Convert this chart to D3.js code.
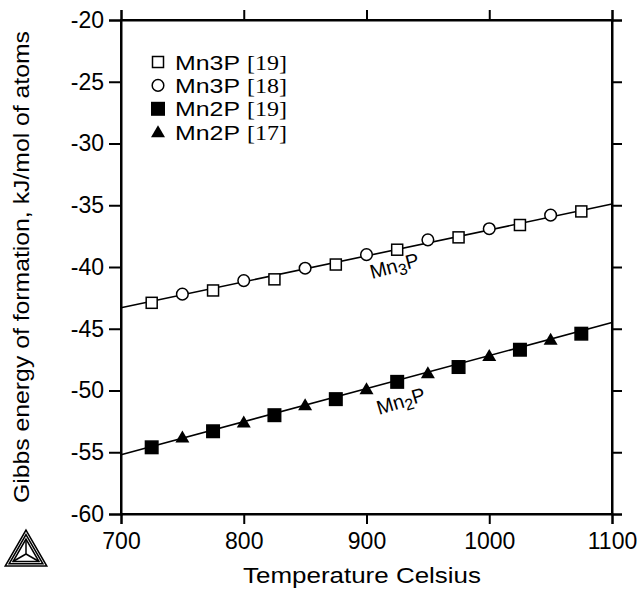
<!DOCTYPE html>
<html>
<head>
<meta charset="utf-8">
<script src="https://cdn.jsdelivr.net/npm/d3@7"></script>
<style>
  body { margin: 0; background: #fff; }
  svg { display: block; }
</style>
</head>
<body>
<svg width="637" height="590"></svg>
<script>
// calculated lines (Temperature C, G kJ/mol)
var mn3pLine = [[700, -43.3], [1100, -34.9]];
var mn2pLine = [[700, -55.2], [1100, -44.5]];

// experimental points
var mn3p19T = [725, 775, 825, 875, 925, 975, 1025, 1075];
var mn3p19G = [-42.9, -41.9, -41.0, -39.8, -38.6, -37.6, -36.6, -35.5];
var mn3p18T = [750, 800, 850, 900, 950, 1000, 1050];
var mn3p18G = [-42.2, -41.1, -40.1, -39.0, -37.8, -36.9, -35.8];
var mn2p19T = [725, 775, 825, 875, 925, 975, 1025, 1075];
var mn2p19G = [-54.6, -53.3, -52.0, -50.7, -49.3, -48.1, -46.7, -45.4];
var mn2p17T = [750, 800, 850, 900, 950, 1000, 1050];
var mn2p17G = [-53.8, -52.6, -51.2, -49.9, -48.6, -47.2, -45.9];

var xTicks = [700, 800, 900, 1000, 1100];
var yTicks = [-20, -25, -30, -35, -40, -45, -50, -55, -60];

var legendNames = ["Mn3P", "Mn3P", "Mn2P", "Mn2P"];
var legendRefs = ["[19]", "[18]", "[19]", "[17]"];
var legendSyms = ["sq", "circ", "fsq", "tri"];

var svg = d3.select('svg');
var m = {l: 121, r: 612, t: 20, b: 514};

var x = d3.scaleLinear().domain([700, 1100]).range([m.l, m.r]);
var y = d3.scaleLinear().domain([-60, -20]).range([m.b, m.t]);

var sans = "'Liberation Sans', Arial, sans-serif";
var serif = "'Liberation Serif', 'Times New Roman', serif";
var plain = function(d) { return String(d); }; // hyphen minus like the original

// axes on all four sides, ticks outward
var axB = svg.append('g').attr('transform', 'translate(0,' + m.b + ')')
  .call(d3.axisBottom(x).tickValues(xTicks).tickSize(10).tickPadding(5).tickFormat(plain));
var axT = svg.append('g').attr('transform', 'translate(0,' + m.t + ')')
  .call(d3.axisTop(x).tickValues(xTicks).tickSize(10).tickFormat(''));
var axL = svg.append('g').attr('transform', 'translate(' + m.l + ',0)')
  .call(d3.axisLeft(y).tickValues(yTicks).tickSize(12).tickPadding(5).tickFormat(plain));
var axR = svg.append('g').attr('transform', 'translate(' + m.r + ',0)')
  .call(d3.axisRight(y).tickValues(yTicks).tickSize(10).tickFormat(''));

[axB, axT, axL, axR].forEach(function(a) {
  a.select('.domain').attr('stroke', '#000').attr('stroke-width', 2);
  a.selectAll('.tick line').attr('stroke', '#000').attr('stroke-width', 2);
  a.selectAll('.tick text').attr('font-family', sans).attr('font-size', 23).attr('fill', '#000');
});
axB.selectAll('.tick text').attr('dy', '0.85em');
// frame
svg.append('rect').attr('x', m.l).attr('y', m.t).attr('width', m.r - m.l).attr('height', m.b - m.t)
  .attr('fill', 'none').attr('stroke', '#000').attr('stroke-width', 2);

// axis titles
svg.append('text').attr('x', 362).attr('y', 583).attr('text-anchor', 'middle')
  .attr('font-family', sans).attr('font-size', 22)
  .attr('textLength', 238).attr('lengthAdjust', 'spacingAndGlyphs').text('Temperature Celsius');
svg.append('text').attr('transform', 'translate(29,267) rotate(-90)').attr('text-anchor', 'middle')
  .attr('font-family', sans).attr('font-size', 22)
  .attr('textLength', 472).attr('lengthAdjust', 'spacingAndGlyphs')
  .text('Gibbs energy of formation, kJ/mol of atoms');

// calculated lines
var line = d3.line().x(function(d) { return x(d[0]); }).y(function(d) { return y(d[1]); });
var plot = svg.append('g');
[mn3pLine, mn2pLine].forEach(function(l) {
  plot.append('path').datum(l).attr('d', line).attr('fill', 'none')
    .attr('stroke', '#000').attr('stroke-width', 1.6);
});

// symbols
function drawSym(g, kind, cx, cy) {
  if (kind == 'sq' || kind == 'fsq') {
    var s = kind == 'sq' ? 11 : 12.5;
    g.append('rect').attr('x', cx - s / 2).attr('y', cy - s / 2).attr('width', s).attr('height', s)
      .attr('fill', kind == 'sq' ? '#fff' : '#000').attr('stroke', '#000').attr('stroke-width', 1.5);
  } else if (kind == 'circ') {
    g.append('circle').attr('cx', cx).attr('cy', cy).attr('r', 5.8)
      .attr('fill', '#fff').attr('stroke', '#000').attr('stroke-width', 1.5);
  } else {
    g.append('path').attr('d', 'M' + cx + ',' + (cy - 7) + 'L' + (cx + 7) + ',' + (cy + 5) + 'L' + (cx - 7) + ',' + (cy + 5) + 'Z')
      .attr('fill', '#000');
  }
}

function drawSeries(T, G, kind) {
  T.forEach(function(t, i) { drawSym(plot, kind, x(t), y(G[i])); });
}
drawSeries(mn3p19T, mn3p19G, 'sq');
drawSeries(mn3p18T, mn3p18G, 'circ');
drawSeries(mn2p19T, mn2p19G, 'fsq');
drawSeries(mn2p17T, mn2p17G, 'tri');

// phase labels along lines
function phaseLabel(cx, cy, ang, sub) {
  var t = svg.append('text').attr('transform', 'translate(' + cx + ',' + cy + ') rotate(' + ang + ')')
    .attr('font-family', sans).attr('font-size', 20).attr('fill', '#000');
  t.append('tspan').text('Mn');
  t.append('tspan').attr('font-size', 16).attr('dy', 4).text(sub);
  t.append('tspan').attr('dy', -4).text('P');
}
phaseLabel(372, 279, -15, '3');
phaseLabel(379, 415, -17, '2');

// legend
var leg = svg.append('g');
legendNames.forEach(function(n, i) {
  var ly = 62 + i * 23.4;
  drawSym(leg, legendSyms[i], 158, ly);
  leg.append('text').attr('x', 175).attr('y', ly + 7.5).attr('font-family', sans).attr('font-size', 20)
    .attr('textLength', 65).attr('lengthAdjust', 'spacingAndGlyphs').text(n);
  leg.append('text').attr('x', 247).attr('y', ly + 7.5).attr('font-family', serif).attr('font-size', 20)
    .attr('textLength', 40).attr('lengthAdjust', 'spacingAndGlyphs').text(legendRefs[i]);
});

// Thermo-Calc logo
var logo = svg.append('g').attr('fill', 'none').attr('stroke', '#000').attr('stroke-width', 1.5);
var lc = [26, 554];
[24, 19.5, 15].forEach(function(r) {
  var pts = [-90, 30, 150].map(function(a) {
    var ra = a * Math.PI / 180;
    return [lc[0] + r * Math.cos(ra), lc[1] + r * Math.sin(ra)];
  });
  logo.append('path').attr('d', 'M' + pts.join('L') + 'Z');
});
[-90, 30, 150].forEach(function(a) {
  var ra = a * Math.PI / 180;
  logo.append('line').attr('x1', lc[0]).attr('y1', lc[1])
    .attr('x2', lc[0] + 15 * Math.cos(ra)).attr('y2', lc[1] + 15 * Math.sin(ra));
});
</script>
</body>
</html>
